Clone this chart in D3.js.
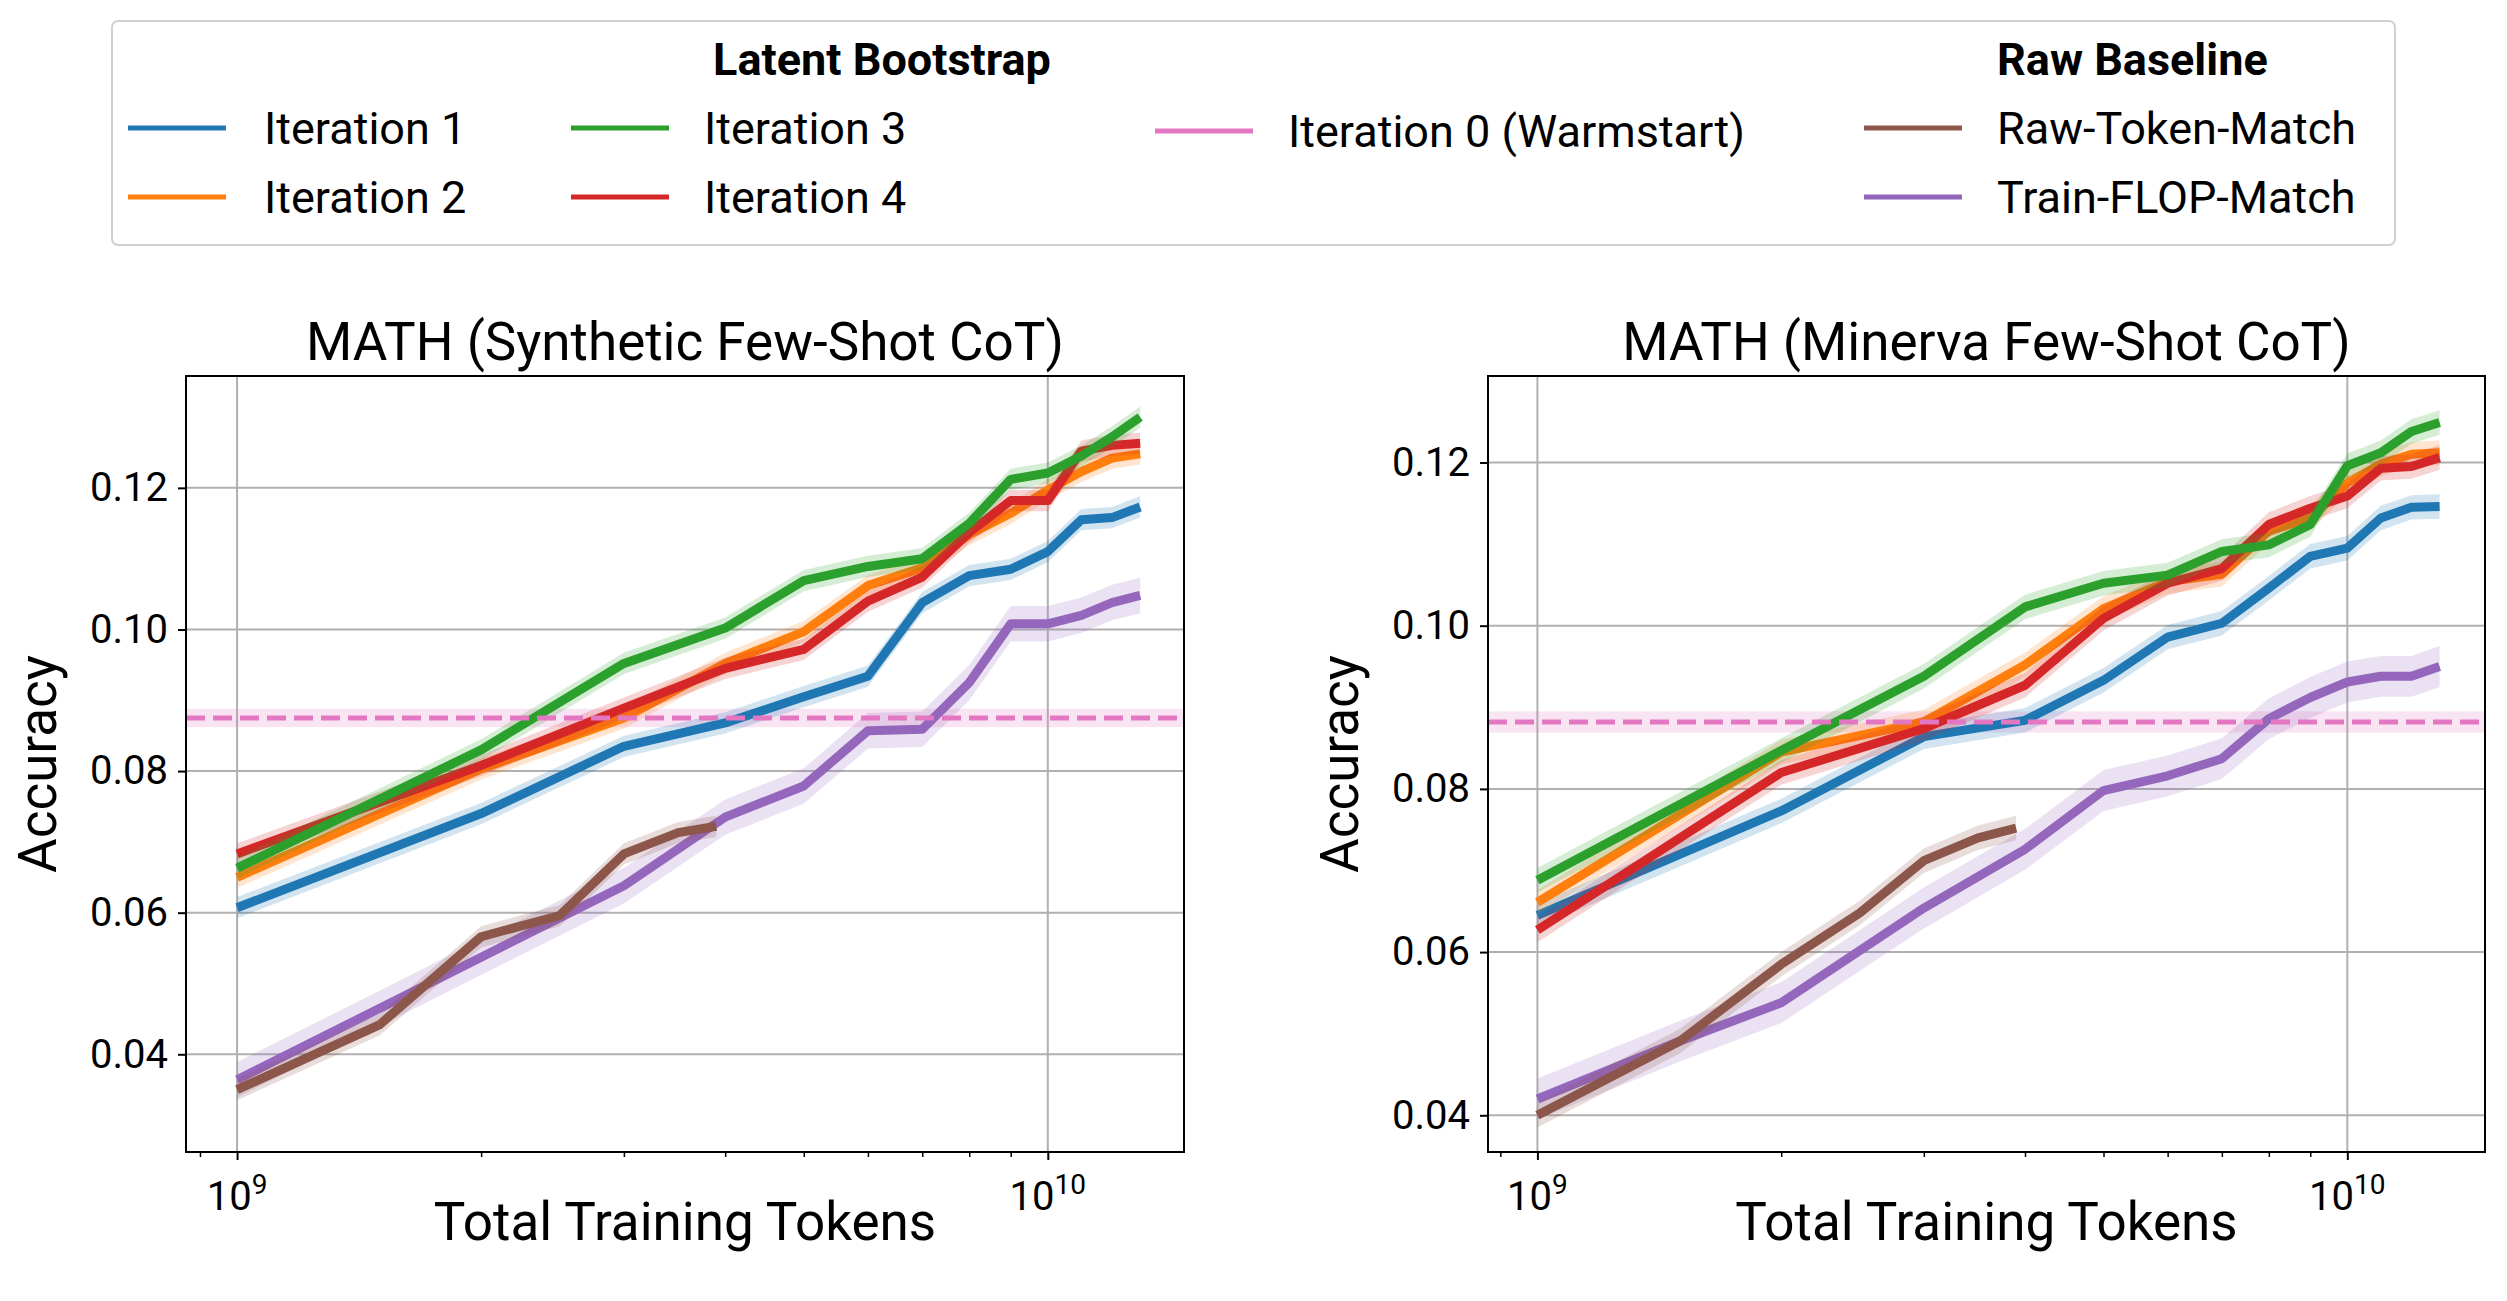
<!DOCTYPE html>
<html>
<head>
<meta charset="utf-8">
<script src="https://cdn.jsdelivr.net/npm/d3@7"></script>
<style>
body { margin: 0; background: #fff; }
text { font-family: Roboto, "DejaVu Sans", sans-serif; fill: #000; }
</style>
</head>
<body>
<svg id="chart" width="2507" height="1301"></svg>
<script>
// token counts on the x axis
var tokensMain = [1e9, 2e9, 3e9, 4e9, 5e9, 6e9, 7e9, 8e9, 9e9, 1e10, 1.1e10, 1.2e10, 1.3e10];
var tokensFlop = [1e9, 1.5e9, 2e9, 3e9, 4e9, 5e9, 6e9, 7e9, 8e9, 9e9, 1e10, 1.1e10, 1.2e10, 1.3e10];
var tokensRaw = [1e9, 1.5e9, 2e9, 2.5e9, 3e9, 3.5e9, 3.9e9];

var seriesNames = ["Iteration 1", "Iteration 2", "Iteration 3", "Iteration 4", "Iteration 0 (Warmstart)", "Raw-Token-Match", "Train-FLOP-Match"];
var seriesColors = ["#1f77b4", "#ff7f0e", "#2ca02c", "#d62728", "#e377c2", "#8c564b", "#9467bd"];
var bandHalf = [0.0015, 0.0015, 0.0015, 0.0015, 0.0013, 0.0015, 0.0025];

// panel 1: MATH (Synthetic Few-Shot CoT)
var synIter1 = [0.0607, 0.074, 0.0835, 0.0868, 0.0905, 0.0934, 0.1038, 0.1076, 0.1085, 0.111, 0.1155, 0.1158, 0.1173];
var synIter2 = [0.065, 0.0803, 0.0875, 0.0952, 0.0997, 0.1062, 0.1087, 0.1134, 0.1164, 0.1197, 0.1223, 0.1242, 0.1248];
var synIter3 = [0.0663, 0.083, 0.0952, 0.1002, 0.1069, 0.1089, 0.110, 0.115, 0.1212, 0.1221, 0.1245, 0.1272, 0.130];
var synIter4 = [0.0683, 0.0808, 0.0889, 0.0945, 0.0972, 0.104, 0.1074, 0.1137, 0.1182, 0.1182, 0.1252, 0.126, 0.1263];
var synWarm = 0.0875;
var synRaw = [0.035, 0.0442, 0.0566, 0.0596, 0.0683, 0.0713, 0.0722];
var synFlop = [0.0364, 0.0465, 0.0537, 0.0638, 0.0735, 0.0779, 0.0857, 0.0859, 0.0925, 0.1008, 0.1008, 0.102, 0.1038, 0.1048];

// panel 2: MATH (Minerva Few-Shot CoT)
var minIter1 = [0.0645, 0.0773, 0.0864, 0.0884, 0.0933, 0.0986, 0.1003, 0.1046, 0.1085, 0.1095, 0.1132, 0.1145, 0.1146];
var minIter2 = [0.0661, 0.0845, 0.0882, 0.0952, 0.1021, 0.1054, 0.1063, 0.1116, 0.1132, 0.1175, 0.1198, 0.121, 0.1212];
var minIter3 = [0.0688, 0.0847, 0.0938, 0.1023, 0.1052, 0.1062, 0.1091, 0.1099, 0.1124, 0.1196, 0.1212, 0.1238, 0.1249];
var minIter4 = [0.0627, 0.082, 0.0874, 0.0927, 0.1009, 0.1052, 0.107, 0.1124, 0.1144, 0.1159, 0.1193, 0.1195, 0.1206];
var minWarm = 0.0882;
var minRaw = [0.040, 0.0491, 0.0585, 0.0648, 0.0712, 0.074, 0.0752];
var minFlop = [0.042, 0.0491, 0.0538, 0.0654, 0.0726, 0.0798, 0.0816, 0.0837, 0.0886, 0.0912, 0.0931, 0.0938, 0.0938, 0.095];

var yTicks = [0.04, 0.06, 0.08, 0.10, 0.12];

var svg = d3.select("#chart");

var panels = [
  { title: "MATH (Synthetic Few-Shot CoT)", left: 186, right: 1184, top: 376, bottom: 1152,
    xDom: [Math.pow(10, 8.937), Math.pow(10, 10.168)], yDom: [0.0262, 0.1358],
    iters: [synIter1, synIter2, synIter3, synIter4], warm: synWarm, raw: synRaw, flop: synFlop },
  { title: "MATH (Minerva Few-Shot CoT)", left: 1488, right: 2485, top: 376, bottom: 1152,
    xDom: [Math.pow(10, 8.939), Math.pow(10, 10.17)], yDom: [0.0355, 0.1306],
    iters: [minIter1, minIter2, minIter3, minIter4], warm: minWarm, raw: minRaw, flop: minFlop }
];

panels.forEach(function(p) {
  var x = d3.scaleLog().domain(p.xDom).range([p.left, p.right]);
  var y = d3.scaleLinear().domain(p.yDom).range([p.bottom, p.top]);
  var g = svg.append("g");

  // grid
  g.selectAll(".hg").data(yTicks).enter().append("line")
    .attr("x1", p.left).attr("x2", p.right)
    .attr("y1", d => y(d)).attr("y2", d => y(d))
    .attr("stroke", "#b0b0b0").attr("stroke-width", 2);
  g.selectAll(".vg").data([1e9, 1e10]).enter().append("line")
    .attr("x1", d => x(d)).attr("x2", d => x(d))
    .attr("y1", p.top).attr("y2", p.bottom)
    .attr("stroke", "#b0b0b0").attr("stroke-width", 2);

  var area = function(xs, ys, h) {
    return d3.area().x((d, i) => x(xs[i])).y0(d => y(d - h)).y1(d => y(d + h))(ys);
  };
  var line = function(xs, ys) {
    return d3.line().x((d, i) => x(xs[i])).y(d => y(d))(ys);
  };
  var drawSeries = function(xs, ys, idx) {
    g.append("path").attr("d", area(xs, ys, bandHalf[idx]))
      .attr("fill", seriesColors[idx]).attr("opacity", 0.2);
    g.append("path").attr("d", line(xs, ys)).attr("fill", "none")
      .attr("stroke", seriesColors[idx]).attr("stroke-width", 9).attr("stroke-linejoin", "round");
  };

  // warmstart band + dashed line
  g.append("rect").attr("x", p.left).attr("width", p.right - p.left)
    .attr("y", y(p.warm + bandHalf[4])).attr("height", y(p.warm - bandHalf[4]) - y(p.warm + bandHalf[4]))
    .attr("fill", seriesColors[4]).attr("opacity", 0.2);

  drawSeries(tokensFlop, p.flop, 6);
  drawSeries(tokensRaw, p.raw, 5);
  drawSeries(tokensMain, p.iters[0], 0);
  drawSeries(tokensMain, p.iters[1], 1);
  drawSeries(tokensMain, p.iters[3], 3);
  drawSeries(tokensMain, p.iters[2], 2);

  g.append("line").attr("x1", p.left).attr("x2", p.right)
    .attr("y1", y(p.warm)).attr("y2", y(p.warm))
    .attr("stroke", seriesColors[4]).attr("stroke-width", 5).attr("stroke-dasharray", "19,8");

  // frame
  g.append("rect").attr("x", p.left).attr("y", p.top)
    .attr("width", p.right - p.left).attr("height", p.bottom - p.top)
    .attr("fill", "none").attr("stroke", "#000").attr("stroke-width", 2);

  // y axis
  var yAxis = g.append("g").attr("transform", "translate(" + p.left + ",0)")
    .call(d3.axisLeft(y).tickValues(yTicks).tickFormat(d3.format(".2f")).tickSize(8).tickPadding(10));
  yAxis.select(".domain").remove();
  yAxis.selectAll("line").attr("stroke-width", 2);
  yAxis.selectAll("text").style("font-size", "40px").style("font-family", "Roboto");

  // x axis with minor ticks
  var minor = [];
  for (var e = 8; e <= 10; e++) for (var m = 2; m <= 9; m++) {
    var v = m * Math.pow(10, e);
    if (v > p.xDom[0] && v < p.xDom[1]) minor.push(v);
  }
  var xMinor = g.append("g").attr("transform", "translate(0," + p.bottom + ")")
    .call(d3.axisBottom(x).tickValues(minor).tickFormat("").tickSize(5));
  xMinor.select(".domain").remove();
  xMinor.selectAll("line").attr("stroke-width", 1.5);
  var xMajor = g.append("g").attr("transform", "translate(0," + p.bottom + ")")
    .call(d3.axisBottom(x).tickValues([1e9, 1e10]).tickFormat("").tickSize(8));
  xMajor.select(".domain").remove();
  xMajor.selectAll("line").attr("stroke-width", 2);
  [1e9, 1e10].forEach(function(t) {
    var tx = g.append("text").attr("x", x(t)).attr("y", p.bottom + 58)
      .attr("text-anchor", "middle").style("font-size", "40px");
    tx.append("tspan").text("10");
    tx.append("tspan").attr("dy", -16).style("font-size", "28px").text(Math.round(Math.log10(t)));
  });

  g.append("text").attr("x", (p.left + p.right) / 2).attr("y", p.top - 16)
    .attr("text-anchor", "middle").style("font-size", "53px").text(p.title);
  g.append("text").attr("x", (p.left + p.right) / 2).attr("y", 1240)
    .attr("text-anchor", "middle").style("font-size", "53px").text("Total Training Tokens");
  g.append("text").attr("transform", "translate(" + (p.left - 130) + "," + ((p.top + p.bottom) / 2) + ") rotate(-90)")
    .attr("text-anchor", "middle").style("font-size", "53px").text("Accuracy");
});

// legend
var lg = svg.append("g");
lg.append("rect").attr("x", 112).attr("y", 21).attr("width", 2283).attr("height", 224)
  .attr("rx", 6).attr("fill", "#fff").attr("stroke", "#d0d0d0").attr("stroke-width", 2);
var legendItems = [
  { i: 0, lx: 128, tx: 264, y: 128 }, { i: 1, lx: 128, tx: 264, y: 197 },
  { i: 2, lx: 571, tx: 704, y: 128 }, { i: 3, lx: 571, tx: 704, y: 197 },
  { i: 4, lx: 1155, tx: 1288, y: 131 },
  { i: 5, lx: 1864, tx: 1997, y: 128 }, { i: 6, lx: 1864, tx: 1997, y: 197 }
];
legendItems.forEach(function(it) {
  lg.append("line").attr("x1", it.lx).attr("x2", it.lx + 98).attr("y1", it.y).attr("y2", it.y)
    .attr("stroke", seriesColors[it.i]).attr("stroke-width", 5);
  lg.append("text").attr("x", it.tx).attr("y", it.y + 16).style("font-size", "45px").text(seriesNames[it.i]);
});
lg.append("text").attr("x", 882).attr("y", 75).attr("text-anchor", "middle")
  .style("font-size", "45px").style("font-weight", "bold").text("Latent Bootstrap");
lg.append("text").attr("x", 1997).attr("y", 75)
  .style("font-size", "45px").style("font-weight", "bold").text("Raw Baseline");
</script>
</body>
</html>
